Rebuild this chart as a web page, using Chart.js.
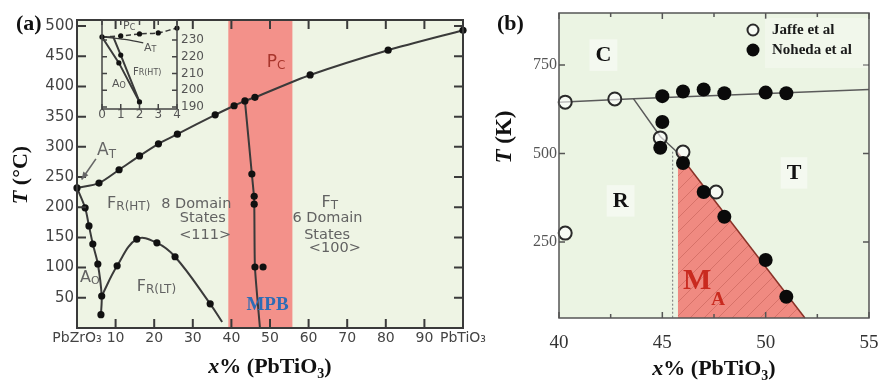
<!DOCTYPE html>
<html>
<head>
<meta charset="utf-8">
<title>PZT phase diagram</title>
<script src="https://cdn.jsdelivr.net/npm/chart.js@4.4.1/dist/chart.umd.min.js"></script>
<style>
  html, body { margin: 0; padding: 0; background: #fff; }
  #wrap { position: relative; width: 878px; height: 380px; overflow: hidden; }
  #wrap canvas { position: absolute; left: 0; top: 0; }
</style>
</head>
<body>
<div id="wrap">
  <canvas id="chartA" width="878" height="380"></canvas>
  <canvas id="chartInset" width="878" height="380"></canvas>
  <canvas id="chartB" width="878" height="380"></canvas>
</div>
<script>
// ---- panel (a): PbZrO3 - PbTiO3 diagram, T in deg C ----
const aXTicks = [0, 10, 20, 30, 40, 50, 60, 70, 80, 90, 100];
const aXLabels = ['PbZrO₃', '10', '20', '30', '40', '50', '60', '70', '80', '90', 'PbTiO₃'];
const aYTicks = [50, 100, 150, 200, 250, 300, 350, 400, 450, 500];
const mpbBand = [39.2, 55.8];

const pcX = [0, 5.7, 10.9, 16.2, 21.1, 26.0, 35.8, 40.7, 43.5, 46.1, 60.4, 80.6, 100];
const pcT = [232, 240, 262, 285, 305, 321, 353, 368, 376, 382, 419, 460, 493];
const aoX = [0, 2.1, 3.1, 4.1, 5.4, 6.4, 6.2];
const aoT = [232, 199, 169, 139, 106, 53, 22];
const frltX = [6.4, 10.4, 15.5, 20.7, 25.4, 34.5, 37.6];
const frltT = [53, 103, 147, 141, 118, 40, 10];
const mpbLineX = [43.5, 45.3, 45.9, 46.1, 47.4];
const mpbLineT = [376, 255, 212, 101, 0];
const mpbPtX = [45.3, 45.9, 45.9, 46.1, 48.2];
const mpbPtT = [255, 218, 205, 101, 101];

// ---- inset of (a) ----
const insXTicks = [0, 1, 2, 3, 4];
const insYTicks = [190, 200, 210, 220, 230];
const insPcX = [0, 1, 2, 3, 4];
const insPcT = [231.8, 232.4, 233.6, 234.2, 237.1];
const insAtX = [0, 1.2, 2.2];
const insAtT = [231.8, 230.3, 228.3];
const insAoLX = [0, 0.9, 2.0];
const insAoLT = [231.8, 216.3, 193];
const insAoRX = [0.6, 1.0, 2.0];
const insAoRT = [231.8, 221, 193];
const insTopX = [0, 0.6];
const insTopT = [231.8, 231.8];

// ---- panel (b): T in K ----
const bXTicks = [40, 45, 50, 55];
const bXMinor = [42.5, 47.5, 52.5];
const bYTicks = [250, 500, 750];
const legendNames = ['Jaffe et al', 'Noheda et al'];
const jaffeX = [40.3, 42.7, 44.9, 46.0, 47.6, 40.3];
const jaffeT = [645, 654, 544, 504, 391, 275];
const nohedaX = [45.0, 46.0, 47.0, 48.0, 50.0, 51.0, 45.0, 44.9, 46.0, 47.0, 48.0, 50.0, 51.0];
const nohedaT = [662, 675, 681, 670, 672, 670, 589, 516, 473, 391, 321, 199, 95];
const cBoundX = [40, 43.6, 55];
const cBoundT = [645, 655, 681];
const rBoundX = [43.6, 44.9, 45.75];
const rBoundT = [655, 548, 502];
const maBoundX = [45.75, 51.9];
const maBoundT = [502, 35];
const dotX = [45.5, 45.5];
const dotT = [505, 35];

const SANS = '"DejaVu Sans", sans-serif';
const SERIF = '"Liberation Serif", "Times New Roman", serif';

function pairs(xs, ys) {
  return xs.map((x, i) => ({ x: x, y: ys[i] }));
}

// fixed axis size so the plot areas land where the original has them
function fixedAxis(size, isX) {
  return function (s) {
    if (isX) s.height = size; else s.width = size;
    s.paddingLeft = s.paddingRight = s.paddingTop = s.paddingBottom = 0;
  };
}
function useTicks(values) {
  return function (s) { s.ticks = values.map(v => ({ value: v })); };
}

function partFonts(parts, family) {
  return parts.map(p => (p[3] || '') + p[1] + 'px ' + family);
}
function measureParts(ctx, parts, family) {
  const fonts = partFonts(parts, family);
  let w = 0;
  parts.forEach((p, i) => { ctx.font = fonts[i]; w += ctx.measureText(p[0]).width; });
  return w;
}
// parts: [text, size, dy, style]
function drawParts(ctx, x, y, parts, family, align) {
  const fonts = partFonts(parts, family);
  const w = measureParts(ctx, parts, family);
  let cx = align === 'center' ? x - w / 2 : align === 'right' ? x - w : x;
  ctx.textAlign = 'left';
  parts.forEach((p, i) => {
    ctx.font = fonts[i];
    ctx.fillText(p[0], cx, y + (p[2] || 0));
    cx += ctx.measureText(p[0]).width;
  });
  return w;
}

function makeDeco(cfg) {
  return {
    id: 'deco',
    beforeDraw(chart) {
      const { ctx, chartArea: a, scales } = chart;
      ctx.save();
      if (cfg.bg) {
        ctx.fillStyle = cfg.bg;
        ctx.fillRect(a.left, a.top, a.width, a.height);
      }
      (cfg.bands || []).forEach(b => {
        const x1 = scales.x.getPixelForValue(b.from);
        const x2 = scales.x.getPixelForValue(b.to);
        ctx.fillStyle = b.color;
        ctx.fillRect(x1, a.top, x2 - x1, a.height);
      });
      ctx.restore();
    },
    afterDatasetsDraw(chart) {
      const { ctx, chartArea: a, scales } = chart;
      const sx = scales.x, sy = scales.y;
      ctx.save();
      // frame with inward ticks
      const f = cfg.frame;
      ctx.strokeStyle = f.color;
      ctx.lineWidth = f.width;
      ctx.strokeRect(a.left, a.top, a.width, a.height);
      ctx.lineWidth = f.tickWidth || f.width;
      ctx.beginPath();
      const tick = (vals, len, sides) => {
        vals.forEach(v => {
          if (sides.indexOf('x') >= 0) {
            const px = sx.getPixelForValue(v);
            if (f.bottom) { ctx.moveTo(px, a.bottom); ctx.lineTo(px, a.bottom - len); }
            if (f.top) { ctx.moveTo(px, a.top); ctx.lineTo(px, a.top + len); }
          } else {
            const py = sy.getPixelForValue(v);
            if (f.left) { ctx.moveTo(a.left, py); ctx.lineTo(a.left + len, py); }
            if (f.right) { ctx.moveTo(a.right, py); ctx.lineTo(a.right - len, py); }
          }
        });
      };
      tick(f.xTicks, f.len, 'x');
      tick(f.xMinor || [], f.minorLen || f.len, 'x');
      tick(f.yTicks, f.len, 'y');
      ctx.stroke();

      // arrows
      (cfg.arrows || []).forEach(ar => {
        const x1 = sx.getPixelForValue(ar.from[0]), y1 = sy.getPixelForValue(ar.from[1]);
        const x2 = sx.getPixelForValue(ar.to[0]), y2 = sy.getPixelForValue(ar.to[1]);
        const ang = Math.atan2(y2 - y1, x2 - x1);
        ctx.strokeStyle = ar.color; ctx.fillStyle = ar.color; ctx.lineWidth = 1.6;
        ctx.beginPath(); ctx.moveTo(x1, y1); ctx.lineTo(x2, y2); ctx.stroke();
        ctx.beginPath();
        ctx.moveTo(x2, y2);
        ctx.lineTo(x2 - 8 * Math.cos(ang - 0.4), y2 - 8 * Math.sin(ang - 0.4));
        ctx.lineTo(x2 - 8 * Math.cos(ang + 0.4), y2 - 8 * Math.sin(ang + 0.4));
        ctx.closePath(); ctx.fill();
      });

      // text labels placed in data units
      ctx.textBaseline = 'middle';
      (cfg.labels || []).forEach(l => {
        const px = sx.getPixelForValue(l.x), py = sy.getPixelForValue(l.y);
        const fam = l.family || cfg.family;
        if (l.box) {
          const w = measureParts(ctx, l.parts, fam);
          const h = l.parts[0][1] * 1.25;
          const bx = l.align === 'center' ? px - w / 2 : px;
          ctx.fillStyle = l.box;
          ctx.fillRect(bx - 6, py - h / 2 - 2, w + 12, h + 4);
        }
        ctx.fillStyle = l.color || cfg.labelColor;
        drawParts(ctx, px, py, l.parts, fam, l.align || 'left');
      });
      ctx.restore();
      if (cfg.extra) cfg.extra(chart);
    }
  };
}

const baseOpts = {
  responsive: false,
  animation: false,
  events: [],
  plugins: { legend: { display: false }, tooltip: { enabled: false } }
};

function lineSet(xs, ys, o) {
  return Object.assign({
    data: pairs(xs, ys), showLine: true, borderColor: '#3a3a3a', borderWidth: 2,
    pointRadius: 0, pointBackgroundColor: '#111', pointBorderWidth: 0,
    tension: 0, clip: 8
  }, o || {});
}

// ================= chart (a) =================
const lblA = '#626262';
new Chart(document.getElementById('chartA'), {
  type: 'scatter',
  data: {
    datasets: [
      lineSet(mpbPtX, mpbPtT, { showLine: false, pointRadius: 3.6 }),
      lineSet(pcX, pcT, { pointRadius: 3.6, tension: 0.25 }),
      lineSet(aoX, aoT, { pointRadius: [0, 3.6, 3.6, 3.6, 3.6, 3.6, 3.6], tension: 0.3 }),
      lineSet(frltX, frltT, { pointRadius: [0, 3.6, 3.6, 3.6, 3.6, 3.6, 0], tension: 0.4 }),
      lineSet(mpbLineX, mpbLineT, { tension: 0.2 })
    ]
  },
  options: Object.assign({}, baseOpts, {
    layout: { padding: { left: 0, top: 20, right: 415, bottom: 0 } },
    scales: {
      x: {
        type: 'linear', min: 0, max: 100,
        afterBuildTicks: useTicks(aXTicks), afterFit: fixedAxis(52, true),
        grid: { display: false, drawTicks: false }, border: { display: false },
        ticks: {
          autoSkip: false, maxRotation: 0, minRotation: 0, padding: 2, color: '#444',
          font: { family: SANS, size: 14 },
          callback: (v, i) => aXLabels[i]
        }
      },
      y: {
        type: 'linear', min: 0, max: 510,
        afterBuildTicks: useTicks(aYTicks), afterFit: fixedAxis(77, false),
        grid: { display: false, drawTicks: false }, border: { display: false },
        ticks: { autoSkip: false, padding: 3, color: '#444', font: { family: SANS, size: 15 } }
      }
    }
  }),
  plugins: [makeDeco({
    bg: '#eef4e4',
    bands: [{ from: mpbBand[0], to: mpbBand[1], color: '#f3918a' }],
    frame: { color: '#3a3a3a', width: 2, len: 9, xTicks: aXTicks, yTicks: aYTicks, top: true, bottom: true, left: true, right: true },
    family: SANS, labelColor: lblA,
    arrows: [{ from: [4.9, 280], to: [1.2, 246], color: '#666' }],
    labels: [
      { x: 51.6, y: 440, parts: [['P', 17], ['C', 12, 4]], color: '#a8352c', align: 'center' },
      { x: 5.2, y: 293, parts: [['A', 17], ['T', 12, 4]], color: '#666' },
      { x: 7.8, y: 205, parts: [['F', 16], ['R(HT)', 12, 3]] },
      { x: 30.9, y: 205, parts: [['8 Domain', 14.5]], align: 'center' },
      { x: 32.6, y: 182, parts: [['States', 14.5]], align: 'center' },
      { x: 33.2, y: 154, parts: [['<111>', 14.5]], align: 'center' },
      { x: 65.5, y: 208, parts: [['F', 16], ['T', 12, 3]], align: 'center' },
      { x: 64.9, y: 182, parts: [['6 Domain', 14.5]], align: 'center' },
      { x: 64.8, y: 154, parts: [['States', 14.5]], align: 'center' },
      { x: 66.8, y: 132, parts: [['<100>', 14.5]], align: 'center' },
      { x: 0.8, y: 83, parts: [['A', 16], ['O', 11, 3]] },
      { x: 15.5, y: 68, parts: [['F', 16], ['R(LT)', 12, 3]] },
      { x: 49.35, y: 38, parts: [['MPB', 19, 0, 'bold ']], family: SERIF, color: '#2d6cb6', align: 'center' }
    ],
    extra(chart) {
      const { ctx, chartArea: a } = chart;
      ctx.save();
      ctx.fillStyle = '#111';
      ctx.textBaseline = 'alphabetic';
      drawParts(ctx, 16, 30, [['(a)', 22, 0, 'bold ']], SERIF, 'left');
      drawParts(ctx, (a.left + a.right) / 2, 373,
        [['x', 22, 0, 'italic bold '], ['% (PbTiO', 22, 0, 'bold '], ['3', 14, 5, 'bold '], [')', 22, 0, 'bold ']], SERIF, 'center');
      ctx.translate(27, 175);
      ctx.rotate(-Math.PI / 2);
      drawParts(ctx, 0, 0, [['T', 22, 0, 'italic bold '], [' (°C)', 22, 0, 'bold ']], SERIF, 'center');
      ctx.restore();
    }
  })]
});

// ================= inset of (a) =================
new Chart(document.getElementById('chartInset'), {
  type: 'scatter',
  data: {
    datasets: [
      lineSet(insPcX, insPcT, { pointRadius: 2.6, borderDash: [5, 3], borderWidth: 1.5, tension: 0.2 }),
      lineSet(insAtX, insAtT, { borderWidth: 1.3, tension: 0.3 }),
      lineSet(insAoLX, insAoLT, { pointRadius: [0, 2.6, 2.6] }),
      lineSet(insAoRX, insAoRT, { pointRadius: [0, 2.6, 0] }),
      lineSet(insTopX, insTopT, { borderWidth: 1.5 })
    ]
  },
  options: Object.assign({}, baseOpts, {
    layout: { padding: { left: 102, top: 20, right: 671, bottom: 256 } },
    scales: {
      x: {
        type: 'linear', min: 0, max: 4,
        afterBuildTicks: useTicks(insXTicks), afterFit: fixedAxis(15, true),
        grid: { display: false, drawTicks: false }, border: { display: false },
        ticks: { autoSkip: false, maxRotation: 0, padding: -1, color: '#555', font: { family: SANS, size: 12 } }
      },
      y: {
        type: 'linear', position: 'right', min: 188.8, max: 241.9,
        afterBuildTicks: useTicks(insYTicks), afterFit: fixedAxis(30, false),
        grid: { display: false, drawTicks: false }, border: { display: false },
        ticks: { autoSkip: false, padding: 4, color: '#555', font: { family: SANS, size: 12 } }
      }
    }
  }),
  plugins: [makeDeco({
    frame: { color: '#444', width: 1.5, len: 5, xTicks: insXTicks, yTicks: insYTicks, top: true, bottom: true, left: true, right: true },
    family: SANS, labelColor: '#555',
    labels: [
      { x: 1.12, y: 238.4, parts: [['P', 11], ['C', 8, 2]] },
      { x: 2.24, y: 225.2, parts: [['A', 11], ['T', 8, 2]] },
      { x: 1.65, y: 210.9, parts: [['F', 10], ['R(HT)', 8, 1]] },
      { x: 0.53, y: 203.7, parts: [['A', 11], ['O', 8, 2]] }
    ]
  })]
});

// ================= chart (b) =================
function hatch(fill, line) {
  const c = document.createElement('canvas');
  c.width = c.height = 14;
  const g = c.getContext('2d');
  g.fillStyle = fill; g.fillRect(0, 0, 14, 14);
  g.strokeStyle = line; g.lineWidth = 1;
  g.beginPath(); g.moveTo(0, 14); g.lineTo(14, 0); g.stroke();
  return g.createPattern(c, 'repeat');
}

const bGray = '#5a5a5a';
new Chart(document.getElementById('chartB'), {
  type: 'scatter',
  data: {
    datasets: [
      lineSet(nohedaX, nohedaT, { label: legendNames[1], showLine: false, pointRadius: 7, pointBackgroundColor: '#0a0a0a' }),
      lineSet(jaffeX, jaffeT, {
        label: legendNames[0], showLine: false, pointRadius: 6.5,
        pointBackgroundColor: 'rgba(255,255,255,0.6)', pointBorderColor: '#2a2a2a', pointBorderWidth: 2
      }),
      lineSet(cBoundX, cBoundT, { borderColor: bGray, borderWidth: 1.5 }),
      lineSet(rBoundX, rBoundT, { borderColor: bGray, borderWidth: 1.5 }),
      lineSet(dotX, dotT, { borderColor: '#777', borderWidth: 1, borderDash: [2, 2] }),
      lineSet(maBoundX, maBoundT, {
        borderColor: '#8a3228', borderWidth: 1.5, fill: 'start',
        backgroundColor: hatch('#f08a81', 'rgba(170,70,60,0.35)')
      })
    ]
  },
  options: Object.assign({}, baseOpts, {
    layout: { padding: { left: 500, top: 13, right: 9, bottom: 0 } },
    scales: {
      x: {
        type: 'linear', min: 40, max: 55,
        afterBuildTicks: useTicks(bXTicks), afterFit: fixedAxis(62, true),
        grid: { display: false, drawTicks: false }, border: { display: false },
        ticks: { autoSkip: false, maxRotation: 0, padding: 14, color: '#333', font: { family: SERIF, size: 19 } }
      },
      y: {
        type: 'linear', min: 35, max: 897,
        afterBuildTicks: useTicks(bYTicks), afterFit: fixedAxis(59, false),
        grid: { display: false, drawTicks: false }, border: { display: false },
        ticks: { autoSkip: false, padding: 2, color: '#555', font: { family: SERIF, size: 16 } }
      }
    }
  }),
  plugins: [makeDeco({
    bg: '#ebf4e3',
    frame: { color: '#555', width: 1.5, len: 6, minorLen: 4, xTicks: bXTicks, xMinor: bXMinor, yTicks: bYTicks, top: true, bottom: true, left: true, right: true },
    family: SERIF, labelColor: '#111',
    labels: [
      { x: 42.15, y: 778, parts: [['C', 22, 0, 'bold ']], align: 'center', box: 'rgba(255,255,255,0.45)' },
      { x: 51.37, y: 445, parts: [['T', 22, 0, 'bold ']], align: 'center', box: 'rgba(255,255,255,0.45)' },
      { x: 42.98, y: 366, parts: [['R', 22, 0, 'bold ']], align: 'center', box: 'rgba(255,255,255,0.45)' },
      { x: 46.0, y: 140, parts: [['M', 30, 0, 'bold '], ['A', 19, 19, 'bold ']], color: '#c92a1f' }
    ],
    extra(chart) {
      const { ctx, chartArea: a } = chart;
      const sets = chart.data.datasets;
      ctx.save();
      // legend box, top right inside the plot
      ctx.fillStyle = 'rgba(255,255,255,0.3)';
      ctx.fillRect(a.right - 104, a.top + 5, 103, 50);
      ctx.textBaseline = 'middle';
      legendNames.forEach((name, i) => {
        const ds = sets.find(d => d.label === name);
        const cy = a.top + 17 + i * 20;
        const cx = a.right - 116;
        ctx.beginPath();
        ctx.arc(cx, cy, i === 0 ? 5.5 : 6.5, 0, Math.PI * 2);
        ctx.fillStyle = ds.pointBackgroundColor;
        ctx.fill();
        if (ds.pointBorderWidth) {
          ctx.lineWidth = ds.pointBorderWidth; ctx.strokeStyle = ds.pointBorderColor; ctx.stroke();
        }
        ctx.fillStyle = '#1a1a1a';
        drawParts(ctx, cx + 19, cy, [[name, 15, 0, 'bold ']], SERIF, 'left');
      });
      ctx.textBaseline = 'alphabetic';
      ctx.fillStyle = '#111';
      drawParts(ctx, 497, 30, [['(b)', 22, 0, 'bold ']], SERIF, 'left');
      drawParts(ctx, (a.left + a.right) / 2, 375,
        [['x', 22, 0, 'italic bold '], ['% (PbTiO', 22, 0, 'bold '], ['3', 14, 5, 'bold '], [')', 22, 0, 'bold ']], SERIF, 'center');
      ctx.translate(511, 137);
      ctx.rotate(-Math.PI / 2);
      drawParts(ctx, 0, 0, [['T', 23, 0, 'italic bold '], [' (K)', 23, 0, 'bold ']], SERIF, 'center');
      ctx.restore();
    }
  })]
});
</script>
</body>
</html>
